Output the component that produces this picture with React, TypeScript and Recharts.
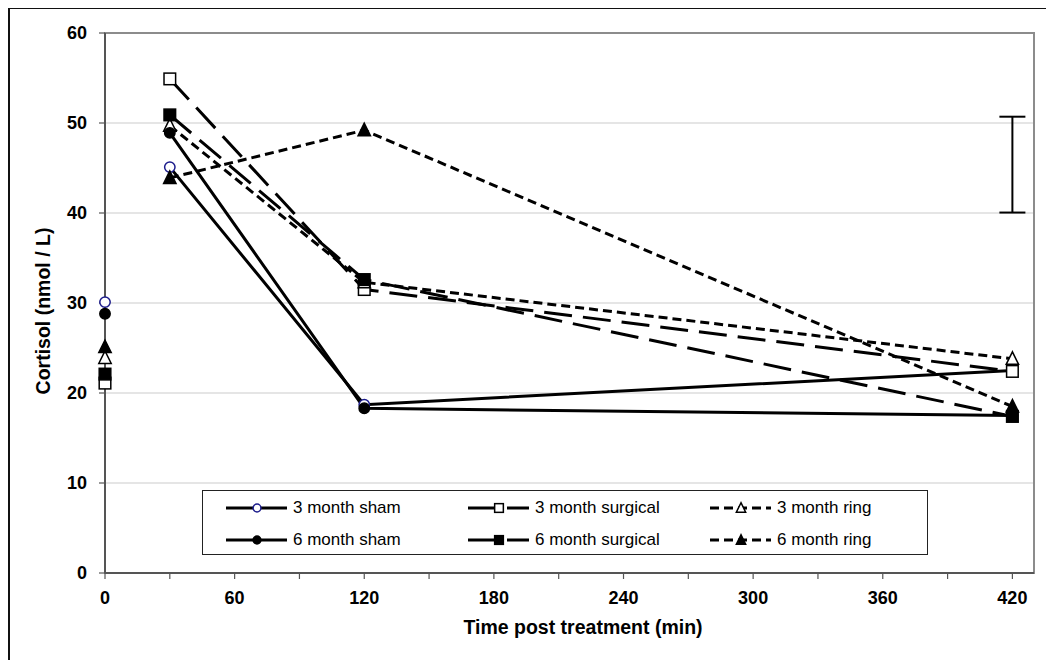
import React from 'react';
import {
  ComposedChart,
  Line,
  Scatter,
  XAxis,
  YAxis,
  CartesianGrid,
  ErrorBar,
  ReferenceArea,
  Legend,
} from 'recharts';

// ---------- data ----------
const seriesKeys = ['sham3', 'surg3', 'ring3', 'sham6', 'surg6', 'ring6'];
const seriesLabels = [
  '3 month sham',
  '3 month surgical',
  '3 month ring',
  '6 month sham',
  '6 month surgical',
  '6 month ring',
];
const baselineTime = 0;
const gapTime = 15;
const timePoints = [30, 120, 420];
const baselineValues = [30.1, 21.1, 23.9, 28.8, 22.1, 25.1];
const sham3Values = [45.1, 18.7, 22.5];
const surg3Values = [54.9, 31.5, 22.4];
const ring3Values = [49.7, 32.3, 23.8];
const sham6Values = [48.9, 18.3, 17.5];
const surg6Values = [50.9, 32.6, 17.4];
const ring6Values = [43.9, 49.2, 18.5];
const seriesValues = [sham3Values, surg3Values, ring3Values, sham6Values, surg6Values, ring6Values];

const errorBarTime = 420;
const errorBarLow = 40.05;
const errorBarHigh = 50.7;

const xTicks = [0, 30, 60, 90, 120, 150, 180, 210, 240, 270, 300, 330, 360, 390, 420];
const yTicks = [0, 10, 20, 30, 40, 50, 60];

// ---------- build table ----------
const baselineRow: any = { t: baselineTime };
seriesKeys.forEach((k, i) => (baselineRow[k] = baselineValues[i]));
const gapRow: any = { t: gapTime };
seriesKeys.forEach((k) => (gapRow[k] = null));
const rows: any[] = [baselineRow, gapRow];
timePoints.forEach((t, j) => {
  const r: any = { t };
  seriesKeys.forEach((k, i) => (r[k] = seriesValues[i][j]));
  rows.push(r);
});
const errorData = [
  {
    t: errorBarTime,
    mid: (errorBarLow + errorBarHigh) / 2,
    err: (errorBarHigh - errorBarLow) / 2,
  },
];

// ---------- styles ----------
type Shape = 'circle' | 'square' | 'triangle';
const shapes: Shape[] = ['circle', 'square', 'triangle', 'circle', 'square', 'triangle'];
const filled = [false, false, false, true, true, true];
const markerStroke = ['#1c1c8c', '#000', '#000', '#000', '#000', '#000'];
const dashes = ['', '28 11', '9 5', '', '28 11', '9 5'];
const FONT = '"Liberation Sans", Arial, sans-serif';

function Marker({ shape, cx, cy, fill, stroke, s = 1 }: any) {
  if (shape === 'circle') {
    return <circle cx={cx} cy={cy} r={5.2 * s} fill={fill} stroke={stroke} strokeWidth={1.5} />;
  }
  if (shape === 'square') {
    const h = 5.8 * s;
    return (
      <rect x={cx - h} y={cy - h} width={2 * h} height={2 * h} fill={fill} stroke={stroke} strokeWidth={1.5} />
    );
  }
  return (
    <polygon
      points={`${cx},${cy - 7 * s} ${cx - 6.2 * s},${cy + 5.5 * s} ${cx + 6.2 * s},${cy + 5.5 * s}`}
      fill={fill}
      stroke={stroke}
      strokeWidth={1.5}
    />
  );
}

const makeDot = (i: number) => (props: any) => {
  const { cx, cy, index } = props;
  const k = `${seriesKeys[i]}-dot-${index}`;
  if (typeof cx !== 'number' || typeof cy !== 'number' || props.value == null || isNaN(cy)) {
    return <g key={k} />;
  }
  return (
    <g key={k}>
      <Marker
        shape={shapes[i]}
        cx={cx}
        cy={cy}
        fill={filled[i] ? '#000' : '#fff'}
        stroke={markerStroke[i]}
      />
    </g>
  );
};

function LegendBox() {
  return (
    <div
      style={{
        width: 726,
        height: 65,
        border: '1.5px solid #222',
        boxSizing: 'border-box',
        position: 'relative',
        background: '#fff',
        fontFamily: FONT,
        fontSize: 17,
        color: '#000',
      }}
    >
      {seriesLabels.map((label, i) => {
        const col = i % 3;
        const row = Math.floor(i / 3);
        return (
          <div
            key={label}
            style={{
              position: 'absolute',
              left: 23 + col * 242,
              top: 8 + row * 32,
              height: 18,
              display: 'flex',
              alignItems: 'center',
              whiteSpace: 'nowrap',
            }}
          >
            <svg width={62} height={18} style={{ display: 'block' }}>
              <line
                x1={0}
                y1={9}
                x2={61}
                y2={9}
                stroke="#000"
                strokeWidth={3}
                strokeDasharray={dashes[i] || undefined}
              />
              <Marker
                shape={shapes[i]}
                cx={31}
                cy={9}
                s={0.75}
                fill={filled[i] ? '#000' : '#fff'}
                stroke={markerStroke[i]}
              />
            </svg>
            <span style={{ marginLeft: 5, lineHeight: '18px' }}>{label}</span>
          </div>
        );
      })}
    </div>
  );
}

const xTickFmt = (v: number) => (v % 60 === 0 ? String(v) : '');

export default function App() {
  return (
    <div style={{ position: 'relative', width: 1046, height: 652 }}>
      <ComposedChart
        width={1046}
        height={652}
        data={rows}
        margin={{ top: 25, right: 20, bottom: 0, left: 0 }}
        style={{ fontFamily: FONT }}
      >
        <CartesianGrid vertical={false} stroke="#cccccc" strokeWidth={1.2} />
        <ReferenceArea
          x1={0}
          x2={430}
          y1={0}
          y2={60}
          fill="none"
          stroke="#8c8c8c"
          strokeWidth={2}
          ifOverflow="visible"
        />
        <XAxis
          type="number"
          dataKey="t"
          domain={[0, 430]}
          ticks={xTicks}
          tickFormatter={xTickFmt}
          interval={0}
          height={87}
          tickSize={6}
          tickMargin={12}
          axisLine={{ stroke: '#555', strokeWidth: 2 }}
          tickLine={{ stroke: '#555', strokeWidth: 1.2 }}
          tick={{ fill: '#000', fontSize: 18, fontWeight: 700, fontFamily: FONT }}
          label={(props: any) => (
            <text
              x={575}
              y={626}
              textAnchor="middle"
              fontFamily={FONT}
              fontSize={19.5}
              fontWeight={700}
              fill="#000"
            >
              Time post treatment (min)
            </text>
          )}
        />
        <YAxis
          type="number"
          domain={[0, 60]}
          ticks={yTicks}
          interval={0}
          width={97}
          tickSize={6}
          tickMargin={12}
          axisLine={{ stroke: '#555', strokeWidth: 2 }}
          tickLine={{ stroke: '#555', strokeWidth: 1.2 }}
          tick={{ fill: '#000', fontSize: 18, fontWeight: 700, fontFamily: FONT }}
          label={(props: any) => (
            <text
              x={35}
              y={303}
              transform="rotate(-90 35 303)"
              textAnchor="middle"
              dominantBaseline="central"
              fontFamily={FONT}
              fontSize={19.5}
              fontWeight={700}
              fill="#000"
            >
              Cortisol (nmol / L)
            </text>
          )}
        />
        <Legend
          layout="vertical"
          align="center"
          verticalAlign="middle"
          content={() => <LegendBox />}
          wrapperStyle={{ left: 194, top: 482, width: 726, height: 65 }}
        />
        {seriesKeys.map((k, i) => (
          <Line
            key={k}
            type="linear"
            dataKey={k}
            name={seriesLabels[i]}
            stroke="#000"
            strokeWidth={3}
            strokeDasharray={dashes[i] || undefined}
            dot={makeDot(i)}
            activeDot={false}
            isAnimationActive={false}
            connectNulls={false}
          />
        ))}
        <Scatter
          data={errorData}
          dataKey="mid"
          shape={() => <g />}
          legendType="none"
          isAnimationActive={false}
        >
          <ErrorBar
            dataKey="err"
            direction="y"
            width={13}
            stroke="#000"
            strokeWidth={2}
            isAnimationActive={false}
          />
        </Scatter>
      </ComposedChart>
      <div
        style={{
          position: 'absolute',
          left: 0,
          top: -1,
          width: 1046,
          height: 653,
          borderLeft: '2px solid #111',
          borderTop: '2px solid #111',
          boxSizing: 'border-box',
          pointerEvents: 'none',
          zIndex: 5,
        }}
      />
    </div>
  );
}
